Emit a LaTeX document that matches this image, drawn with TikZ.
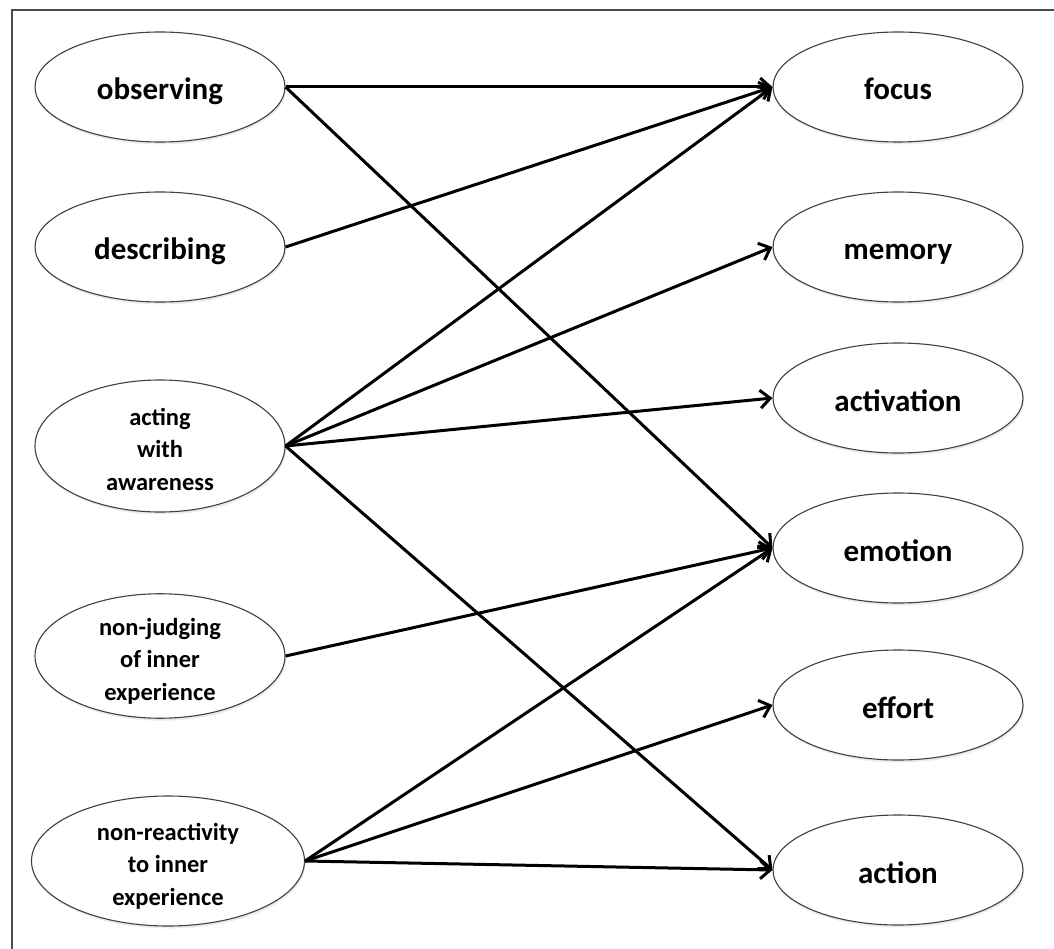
\documentclass[tikz,border=0pt]{standalone}
\usepackage{fontspec}
\setmainfont{Carlito}
\usetikzlibrary{shapes.geometric,arrows.meta,shadows}
\begin{document}
\begin{tikzpicture}[x=1pt,y=-1pt,
  oval/.style={ellipse, draw=black!75, line width=1.1pt, fill=white,
    minimum width=250pt, minimum height=110pt, inner sep=0pt,
    font=\fontsize{31}{33}\selectfont\bfseries, align=center,
    drop shadow={opacity=0.15, shadow xshift=1pt, shadow yshift=-2.5pt}},
  single/.style={text height=26pt, text depth=0pt},
  small/.style={font=\fontsize{24.5}{32.5}\selectfont\bfseries,
    text height=88pt, text depth=0pt},
  link/.style={line width=3pt, -{Straight Barb[length=10pt,width=18pt]}},
  frame/.style={draw=black!70, line width=1.5pt}
]
\useasboundingbox (0,0) rectangle (1054,949);
\draw[frame] (12,960) -- (12,10) -- (1060,10);

% left column
\node[oval, single] (obs) at (160,87) {observing};
\node[oval, single] (des) at (160,247) {describing};
\node[oval, small, minimum height=132pt] (act) at (160,446) {acting\\with\\awareness};
\node[oval, small, minimum height=120pt] (nj) at (160,656) {non-judging\\of inner\\experience};
\node[oval, small, minimum width=273pt, minimum height=130pt] (nr) at (168,861) {non-reactivity\\to inner\\experience};

% right column
\node[oval, single] (foc) at (898,87) {focus};
\node[oval, single] (mem) at (898,247) {memory};
\node[oval, single] (actv) at (898,398) {activation};
\node[oval, single] (emo) at (898,548) {emotion};
\node[oval, single] (eff) at (898,705) {effort};
\node[oval, single] (acn) at (898,870) {action};

% connectors
\draw[link] (obs.east) -- (foc.west);
\draw[link] (obs.east) -- (emo.west);
\draw[link] (des.east) -- (foc.west);
\draw[link] (act.east) -- (foc.west);
\draw[link] (act.east) -- (mem.west);
\draw[link] (act.east) -- (actv.west);
\draw[link] (act.east) -- (acn.west);
\draw[link] (nj.east) -- (emo.west);
\draw[link] (nr.east) -- (emo.west);
\draw[link] (nr.east) -- (eff.west);
\draw[link] (nr.east) -- (acn.west);
\end{tikzpicture}
\end{document}
